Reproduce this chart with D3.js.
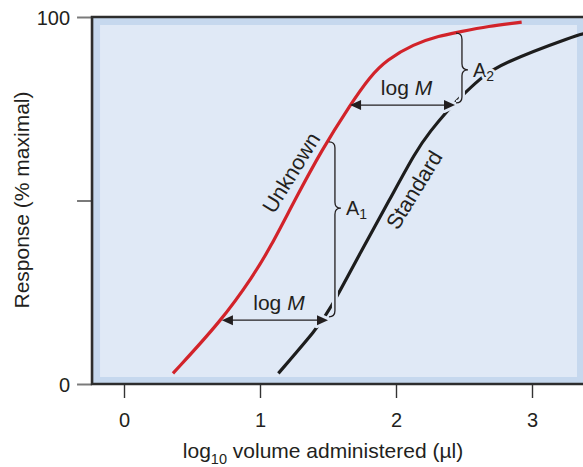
<!DOCTYPE html>
<html>
<head>
<meta charset="utf-8">
<script src="https://cdn.jsdelivr.net/npm/d3@7"></script>
<style>
body { margin: 0; background: #fff; }
svg text { font-family: "Liberation Sans", Arial, sans-serif; fill: #231f20; }
</style>
</head>
<body>
<svg id="chart" width="583" height="467"></svg>
<script>
// values (x = log10 volume, y = % maximal response)
const xTicks = [0, 1, 2, 3];
const yTicks = [0, 50, 100];
const yTickLabels = ["0", "", "100"];

const unknownX = [0.36, 0.72, 0.95, 1.073, 1.254, 1.454, 1.662, 1.809, 1.932, 2.127, 2.324, 2.45, 2.68, 2.924];
const unknownY = [2.9, 17.4, 29.5, 37.0, 50.0, 63.8, 76.0, 83.8, 88.3, 92.6, 94.9, 95.8, 97.5, 98.6];

const standardX = [1.135, 1.42, 1.515, 1.748, 1.95, 2.145, 2.25, 2.385, 2.47, 2.62, 2.765, 3.33, 3.40];
const standardY = [2.9, 15.2, 20.2, 36.5, 50.0, 63.4, 68.8, 74.8, 78.0, 83.3, 87.2, 95.1, 95.6];

// log M arrows: response level, from unknown to standard
const arrowY = [17.4, 76.0];
const arrowX0 = [0.72, 1.662];
const arrowX1 = [1.50, 2.434];

// braces A1, A2
const braceX = [1.551, 2.485];
const braceTop = [66.0, 95.6];
const braceMid = [47.9, 85.6];
const braceBottom = [18.3, 76.6];
const braceSub = ["1", "2"];

const curveNames = ["Unknown", "Standard"];
const curveLabelX = [1.228, 2.132];
const curveLabelY = [57.6, 52.9];
const curveLabelAngle = [-58.4, -58.6];

const width = 583, height = 467;
const svg = d3.select("#chart");

const x = d3.scaleLinear().domain([0, 3]).range([124, 532]);
const y = d3.scaleLinear().domain([0, 100]).range([384, 17]);

const plotLeft = x(-0.235), plotRight = width + 10, plotTop = y(100), plotBottom = y(0);
const bgOuter = "#c6d8ee", bgInner = "#e0e9f6";

// plot background: outer band and lighter inner panel
svg.append("rect")
    .attr("x", plotLeft).attr("y", plotTop)
    .attr("width", plotRight - plotLeft).attr("height", plotBottom - plotTop)
    .attr("fill", bgOuter);
svg.append("rect")
    .attr("x", plotLeft + 8).attr("y", plotTop + 8)
    .attr("width", width - 6 - (plotLeft + 8)).attr("height", plotBottom - plotTop - 15)
    .attr("fill", bgInner);

// y axis
const yAxis = svg.append("g")
    .attr("transform", `translate(${plotLeft},0)`)
    .call(d3.axisLeft(y).tickValues(yTicks).tickSize(15).tickPadding(7)
        .tickFormat((d, i) => yTickLabels[i]));
yAxis.select(".domain").remove();
yAxis.selectAll(".tick line").attr("stroke", "#7a7a7a").attr("stroke-width", 2);
yAxis.selectAll(".tick text")
    .attr("font-size", 20).attr("dy", "0.36em").attr("x", -22)
    .attr("fill", "#231f20");

// x axis
const xAxis = svg.append("g")
    .attr("transform", `translate(0,${plotBottom})`)
    .call(d3.axisBottom(x).tickValues(xTicks).tickSize(14).tickFormat(d3.format("d")));
xAxis.select(".domain").remove();
xAxis.selectAll(".tick line").attr("stroke", "#333").attr("stroke-width", 1.4);
xAxis.selectAll(".tick text")
    .attr("font-size", 20).attr("y", 43).attr("dy", 0)
    .attr("fill", "#231f20");

// frame (left, top, bottom)
svg.append("path")
    .attr("d", `M${plotRight},${plotTop}H${plotLeft}V${plotBottom}H${plotRight}`)
    .attr("fill", "none").attr("stroke", "#2d2d2d").attr("stroke-width", 2.6);

// axis titles
const xTitle = svg.append("text")
    .attr("x", 323).attr("y", 458)
    .attr("text-anchor", "middle").attr("font-size", 21);
xTitle.append("tspan").text("log");
xTitle.append("tspan").attr("font-size", 14.5).attr("dy", 6).text("10");
xTitle.append("tspan").attr("dy", -6).text(" volume administered (\u00b5l)");

svg.append("text")
    .attr("transform", "translate(29,200) rotate(-90)")
    .attr("text-anchor", "middle").attr("font-size", 21)
    .text("Response (% maximal)");

const line = d3.line()
    .x(d => x(d[0]))
    .y(d => y(d[1]))
    .curve(d3.curveBasis);

const unknownData = unknownX.map((v, i) => [v, unknownY[i]]);
const standardData = standardX.map((v, i) => [v, standardY[i]]);

// standard curve first so annotation halos can break it
svg.append("path")
    .attr("d", line(standardData))
    .attr("fill", "none").attr("stroke", "#1d1d1d").attr("stroke-width", 3.2);

function bracePath(i) {
    const bx = x(braceX[i]), t = y(braceTop[i]), m = y(braceMid[i]), b = y(braceBottom[i]);
    const r = 6;
    return `M${bx - r},${t}Q${bx},${t} ${bx},${t + r}L${bx},${m - r}Q${bx},${m} ${bx + r},${m}` +
        `Q${bx},${m} ${bx},${m + r}L${bx},${b - r}Q${bx},${b} ${bx - r},${b}`;
}

function headPath(tipX, tipY, dir) {
    const len = 11, half = 5;
    return `M${tipX},${tipY}L${tipX - dir * len},${tipY - half}L${tipX - dir * len},${tipY + half}Z`;
}

// halos
braceX.forEach((v, i) => {
    svg.append("path").attr("d", bracePath(i))
        .attr("fill", "none").attr("stroke", bgInner).attr("stroke-width", 6);
    svg.append("path").attr("d", headPath(x(arrowX1[i]), y(arrowY[i]), 1))
        .attr("fill", bgInner).attr("stroke", bgInner).attr("stroke-width", 6)
        .attr("stroke-linejoin", "round");
});

// unknown curve
svg.append("path")
    .attr("d", line(unknownData))
    .attr("fill", "none").attr("stroke", "#d2232a").attr("stroke-width", 3.2);

// log M arrows
arrowY.forEach((v, i) => {
    const yy = y(v), xa = x(arrowX0[i]), xb = x(arrowX1[i]);
    svg.append("line")
        .attr("x1", xa + 6).attr("x2", xb - 6).attr("y1", yy).attr("y2", yy)
        .attr("stroke", "#231f20").attr("stroke-width", 1.4);
    svg.append("path").attr("d", headPath(xa, yy, -1)).attr("fill", "#231f20");
    svg.append("path").attr("d", headPath(xb, yy, 1)).attr("fill", "#231f20");
    const lbl = svg.append("text")
        .attr("x", (xa + xb) / 2 + 4).attr("y", yy - 10)
        .attr("text-anchor", "middle").attr("font-size", 21);
    lbl.append("tspan").text("log ");
    lbl.append("tspan").attr("font-style", "italic").text("M");
});

// braces and A labels
braceX.forEach((v, i) => {
    svg.append("path").attr("d", bracePath(i))
        .attr("fill", "none").attr("stroke", "#231f20").attr("stroke-width", 1.3);
    const t = svg.append("text")
        .attr("x", x(v) + 11).attr("y", y(braceMid[i]) + 7)
        .attr("font-size", 20)
        .attr("stroke", bgInner).attr("stroke-width", 5)
        .attr("paint-order", "stroke").attr("stroke-linejoin", "round");
    t.append("tspan").text("A");
    t.append("tspan").attr("font-size", 14).attr("dy", 4).text(braceSub[i]);
});

// curve names
curveNames.forEach((name, i) => {
    svg.append("text")
        .attr("transform", `translate(${x(curveLabelX[i])},${y(curveLabelY[i])}) rotate(${curveLabelAngle[i]})`)
        .attr("text-anchor", "middle").attr("dy", "0.35em")
        .attr("font-size", 21.5)
        .text(name);
});
</script>
</body>
</html>
